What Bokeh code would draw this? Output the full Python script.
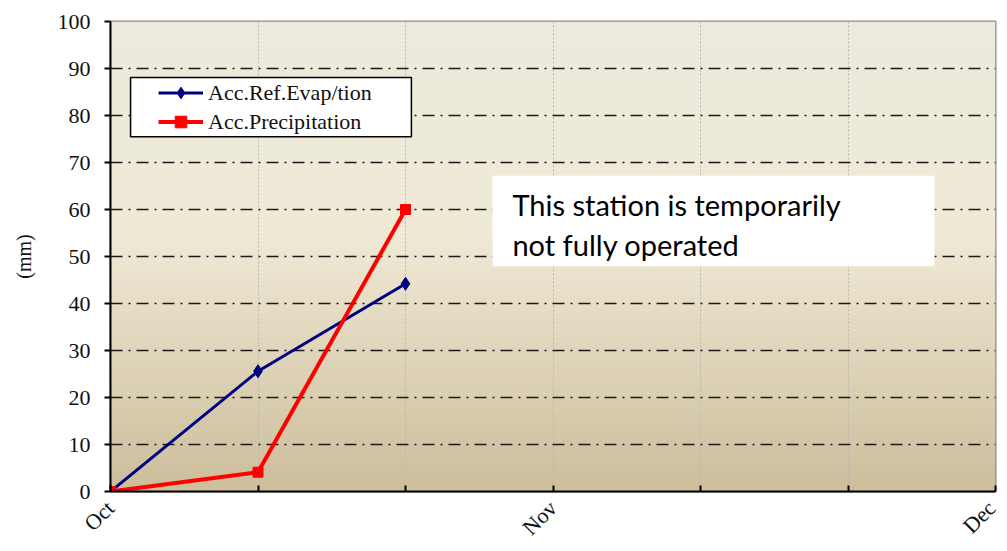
import numpy as np
from math import pi
from bokeh.plotting import figure
from bokeh.models import (Range1d, FixedTicker, Legend, LegendItem, BoxAnnotation,
                          Label)
from bokeh.embed import file_html
from bokeh.resources import INLINE

# ---- data ----
periods = [0, 1, 2]                    # dekad index from 1 Oct
evap = [0.0, 25.6, 44.2]               # Acc.Ref.Evap/tion (mm)
precip = [0.0, 4.1, 60.0]              # Acc.Precipitation (mm)
tick_pos = [0, 1, 2, 3, 4, 5, 6]
tick_labels = {0: "Oct", 1: "", 2: "", 3: "Nov", 4: "", 5: "", 6: "Dec"}
y_ticks = list(range(0, 101, 10))
note_text = "This station is temporarily\nnot fully operated"

SERIF = "Liberation Serif"

p = figure(width=1000, height=551, output_backend="svg", toolbar_location=None,
           x_range=Range1d(0, 6), y_range=Range1d(0, 100),
           min_border_left=110, min_border_top=21, min_border_right=5,
           min_border_bottom=60)
p.background_fill_color = "white"
p.border_fill_color = "white"
p.outline_line_color = "#8c8c8c"
p.outline_line_width = 2

# gradient background of plot area
rows = 200
yy = np.linspace(0, 1, rows)
top = np.array([237, 234, 223])
mid = np.array([240, 234, 214])
bot = np.array([205, 190, 156])
img = np.zeros((rows, 2, 4), dtype=np.uint8)
for i, t in enumerate(yy):
    if t >= 0.55:
        c = mid + (top - mid) * (t - 0.55) / 0.45
    else:
        c = bot + (mid - bot) * t / 0.55
    img[i, :, :3] = c.astype(np.uint8)
    img[i, :, 3] = 255
packed = img.view(dtype=np.uint32).reshape((rows, 2))
p.image_rgba(image=[packed], x=0, y=0, dw=6, dh=100, level="image")

# grids
p.xgrid.ticker = FixedTicker(ticks=tick_pos)
p.xgrid.grid_line_color = "#b8b8b0"
p.xgrid.grid_line_dash = "2 2"
p.xgrid.grid_line_width = 1
p.ygrid.ticker = FixedTicker(ticks=y_ticks[1:-1])
p.ygrid.grid_line_color = "#1a1a1a"
p.ygrid.grid_line_dash = "12 6 2 6"
p.ygrid.grid_line_width = 1.5

# series
p.line(periods, evap, line_color="#000080", line_width=3)
r1 = p.scatter(periods, evap, marker="diamond", size=13, fill_color="#000080",
               line_color="#000080")
p.line(periods, precip, line_color="#ff0000", line_width=4)
r2 = p.scatter(periods, precip, marker="square", size=10, fill_color="#ff0000",
               line_color="#ff0000")
l1 = p.line([None], [None], line_color="#000080", line_width=3)
l2 = p.line([None], [None], line_color="#ff0000", line_width=4)

# legend frame (annotation) + legend entries
p.add_layout(BoxAnnotation(left=0.136, right=2.04, bottom=75.5, top=88.1,
                           fill_color="white", fill_alpha=1,
                           line_color="black", line_width=1.5, line_alpha=1))
legend = Legend(items=[LegendItem(label="Acc.Ref.Evap/tion", renderers=[l1, r1]),
                       LegendItem(label="Acc.Precipitation", renderers=[l2, r2])],
                location=(48, 355), orientation="vertical")
legend.label_text_font = SERIF
legend.label_text_font_size = "22px"
legend.label_text_color = "#111111"
legend.border_line_color = None
legend.background_fill_alpha = 0
legend.padding = 0
legend.spacing = 0
legend.margin = 0
legend.glyph_width = 45
legend.label_height = 29
legend.glyph_height = 29
legend.label_standoff = 5
legend.item_background_fill_alpha = 0
p.add_layout(legend)

# note box
p.add_layout(BoxAnnotation(left=2.59, right=5.586, bottom=47.9, top=67.2,
                           fill_color="white", fill_alpha=1, line_color=None))
p.add_layout(Label(x=2.725, y=64.8, text=note_text, text_font="Lato",
                   text_font_size="29px", text_color="black",
                   text_baseline="top", text_line_height=1.15))

# axes
p.xaxis.ticker = FixedTicker(ticks=tick_pos)
p.xaxis.major_label_overrides = tick_labels
p.xaxis.major_label_orientation = pi / 4
p.xaxis.major_label_text_font = SERIF
p.xaxis.major_label_text_font_size = "22px"
p.xaxis.major_label_text_color = "#111111"
p.xaxis.major_label_standoff = 13
p.xaxis.axis_line_color = "black"
p.xaxis.axis_line_width = 2
p.xaxis.major_tick_in = 6
p.xaxis.major_tick_out = 0
p.xaxis.major_tick_line_width = 2
p.xaxis.minor_tick_line_color = None

p.yaxis.ticker = FixedTicker(ticks=y_ticks)
p.yaxis.major_label_text_font = SERIF
p.yaxis.major_label_text_font_size = "22px"
p.yaxis.major_label_text_color = "#111111"
p.yaxis.axis_line_color = "black"
p.yaxis.axis_line_width = 2
p.yaxis.major_tick_in = 0
p.yaxis.major_tick_out = 6
p.yaxis.major_tick_line_width = 2
p.yaxis.minor_tick_line_color = None
p.yaxis.major_label_standoff = 14
p.yaxis.axis_label = "(mm)"
p.yaxis.axis_label_text_font = SERIF
p.yaxis.axis_label_text_font_size = "20px"
p.yaxis.axis_label_text_font_style = "normal"
p.yaxis.axis_label_text_color = "#111111"
p.yaxis.axis_label_standoff = 20

open("out.html", "w").write(file_html(p, INLINE))
